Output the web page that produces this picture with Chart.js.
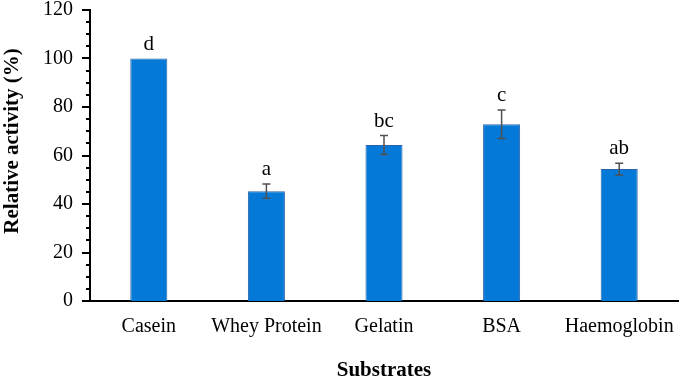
<!DOCTYPE html>
<html>
<head>
<meta charset="utf-8">
<script src="https://cdn.jsdelivr.net/npm/chart.js@4/dist/chart.umd.min.js"></script>
<style>
  body { margin: 0; background: #fff; }
  #wrap { width: 680px; height: 380px; }
</style>
</head>
<body>
<div id="wrap"><canvas id="myChart" width="680" height="380"></canvas></div>
<script>
'use strict';
// chart data
var substrates = ['Casein', 'Whey Protein', 'Gelatin', 'BSA', 'Haemoglobin'];
var activity = [100, 45.3, 64.3, 72.9, 54.4];
var activityErr = [0, 2.9, 3.9, 5.9, 2.4];
var letters = ['d', 'a', 'bc', 'c', 'ab'];
var yTicks = [0, 20, 40, 60, 80, 100, 120];
var yTitle = 'Relative activity (%)';

var serif = "'Liberation Serif', 'Times New Roman', serif";

// error bars + significance letters
var errorBarPlugin = {
  id: 'errorBars',
  afterDatasetsDraw: function(chart) {
    var c = chart.ctx;
    var meta = chart.getDatasetMeta(0);
    var yScale = chart.scales.y;
    c.save();
    for (var i = 0; i < activity.length; i++) {
      var x = meta.data[i].x;
      var top = yScale.getPixelForValue(activity[i] + activityErr[i]);
      var bottom = yScale.getPixelForValue(activity[i] - activityErr[i]);
      if (activityErr[i] > 0) {
        c.strokeStyle = '#505050';
        c.lineWidth = 1.5;
        c.beginPath();
        c.moveTo(x, top); c.lineTo(x, bottom);
        c.moveTo(x - 4, top); c.lineTo(x + 4, top);
        c.moveTo(x - 4, bottom); c.lineTo(x + 4, bottom);
        c.stroke();
      }
      c.fillStyle = '#000';
      c.font = '21px ' + serif;
      c.textAlign = 'center';
      c.textBaseline = 'alphabetic';
      c.fillText(letters[i], x, top - 9);
    }
    c.restore();
  }
};

// minor + major ticks on the y axis (outside), and the y title
var yTickPlugin = {
  id: 'yTickMarks',
  afterDraw: function(chart) {
    var c = chart.ctx;
    var yScale = chart.scales.y;
    var x0 = chart.chartArea.left;
    c.save();
    c.strokeStyle = '#000';
    c.lineWidth = 2;
    for (var v = 0; v <= 120; v += 5) {
      var y = Math.round(yScale.getPixelForValue(v));
      var len = (v % 20 === 0) ? 8 : 4;
      c.beginPath();
      c.moveTo(x0 - len, y);
      c.lineTo(x0, y);
      c.stroke();
    }
    // axis title, sitting a bit above the middle like the original
    c.translate(13, yScale.getPixelForValue(66));
    c.rotate(-Math.PI / 2);
    c.fillStyle = '#000';
    c.font = 'bold 21px ' + serif;
    c.textAlign = 'center';
    c.textBaseline = 'middle';
    c.fillText(yTitle, 0, 0);
    c.restore();
  }
};

var ctx = document.getElementById('myChart');
var myChart = new Chart(ctx, {
  type: 'bar',
  data: {
    labels: substrates,
    datasets: [{
      data: activity,
      backgroundColor: '#0479d8',
      borderColor: '#2a64a8',
      borderWidth: 1,
      categoryPercentage: 1,
      barPercentage: 0.315
    }]
  },
  options: {
    responsive: false,
    animation: false,
    layout: { padding: { top: 10, right: 2, left: 0, bottom: 0 } },
    plugins: {
      legend: { display: false },
      tooltip: { enabled: false }
    },
    scales: {
      x: {
        grid: { display: false, drawTicks: false },
        border: { display: true, color: '#000', width: 2 },
        ticks: { color: '#000', font: { family: serif, size: 20 }, padding: 14, maxRotation: 0 },
        title: {
          display: true,
          text: 'Substrates',
          color: '#000',
          font: { family: serif, size: 21, weight: 'bold' },
          padding: { top: 0, bottom: -3 }
        },
        afterFit: function(s) {
          s.height = 79;
          s.paddingLeft = 0;
          s.paddingRight = 0;
        }
      },
      y: {
        min: 0,
        max: 120,
        afterBuildTicks: function(s) {
          s.ticks = yTicks.map(function(v) { return { value: v }; });
        },
        grid: { display: false, drawTicks: false },
        border: { display: true, color: '#000', width: 2 },
        ticks: { color: '#000', font: { family: serif, size: 20 }, padding: 17 },
        afterFit: function(s) {
          s.width = 90;
          s.paddingTop = 0;
          s.paddingBottom = 0;
        }
      }
    }
  },
  plugins: [errorBarPlugin, yTickPlugin]
});
</script>
</body>
</html>
